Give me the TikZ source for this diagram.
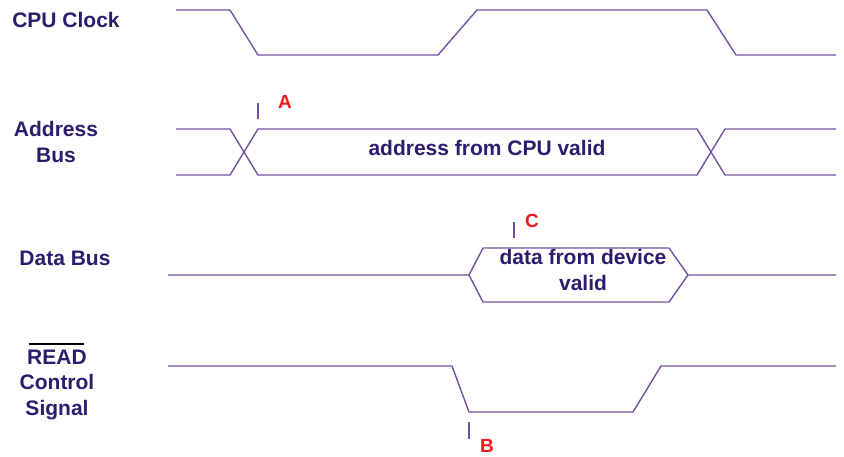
\documentclass[tikz,border=0pt]{standalone}
\usepackage{fontspec}
\setmainfont{Liberation Sans}
\usepackage{xcolor}
\definecolor{sigline}{HTML}{7352A3}
\definecolor{siglabel}{HTML}{2D1C6E}
\definecolor{markred}{HTML}{F01818}

\begin{document}
\begin{tikzpicture}[x=1pt, y=-1pt,
                    every node/.style={siglabel, inner sep=0pt, align=center,
                                       font=\fontsize{21}{25.5}\selectfont\bfseries},
                    wave/.style={sigline, line width=1.4pt, line join=round},
                    tickline/.style={sigline, line width=1.4pt},
                    marklbl/.style={markred, font=\fontsize{19}{20}\selectfont\bfseries}]

  \useasboundingbox (0,0) rectangle (844,457);

  %% signal names on the left
  \node (cpulbl)  at (66,20)  {CPU Clock};
  \node (addrlbl) at (56,142) {Address\\Bus};
  \node (datalbl) at (65,258) {Data Bus};
  \node (readlbl) at (57,385) {READ\\Control\\Signal};
  \draw[black, line width=2pt] (29,344) -- (84,344);

  %% CPU clock
  \draw[wave] (176,10) -- (230,10) -- (258,55) -- (438,55) -- (477,10)
              -- (707,10) -- (736,55) -- (836,55);

  %% address bus
  \draw[wave] (176,129) -- (230,129) -- (258,175) -- (697,175) -- (725,129) -- (836,129);
  \draw[wave] (176,175) -- (230,175) -- (258,129) -- (697,129) -- (725,175) -- (836,175);
  \node (addrtxt) at (487,148) {address from CPU valid};

  %% data bus
  \draw[wave] (168,275) -- (469,275) -- (483,248) -- (669,248) -- (688,275) -- (836,275);
  \draw[wave] (469,275) -- (483,302) -- (669,302) -- (688,275);
  \node (datatxt) at (583,270) {data from device\\valid};

  %% READ control signal
  \draw[wave] (168,366) -- (452,366) -- (469,412) -- (633,412) -- (661,366) -- (836,366);

  %% timing marks
  \draw[tickline] (258,103) -- (258,119);
  \node[marklbl] (markA) at (285,102) {A};
  \draw[tickline] (514,222) -- (514,238);
  \node[marklbl] (markC) at (532,221) {C};
  \draw[tickline] (469,422) -- (469,439);
  \node[marklbl] (markB) at (487,446) {B};

\end{tikzpicture}
\end{document}
